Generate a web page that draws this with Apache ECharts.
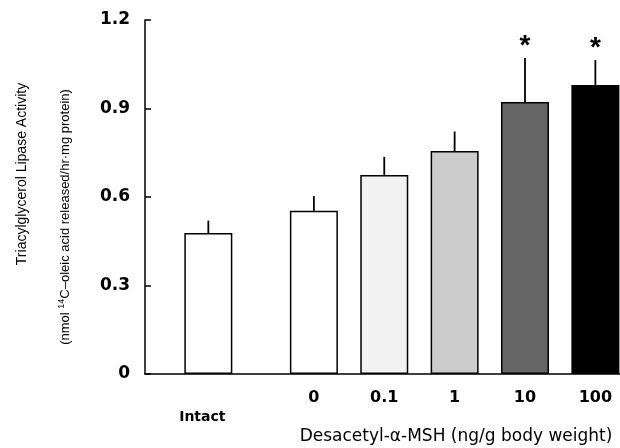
<!DOCTYPE html>
<html><head><meta charset="utf-8">
<script src="https://cdn.jsdelivr.net/npm/echarts@6/dist/echarts.min.js"></script>
<style>html,body{margin:0;padding:0;background:#fff}#c{width:620px;height:448px}</style>
</head><body><div id="c"></div>
<script>
// Data
var groups = ['Intact', '0', '0.1', '1', '10', '100'];
var groupPos = [0, 1.5, 2.5, 3.5, 4.5, 5.5];
var means = [0.478, 0.553, 0.675, 0.756, 0.922, 0.980];
var sems = [0.042, 0.050, 0.061, 0.066, 0.149, 0.084];
var significant = [false, false, false, false, true, true];
var yTicks = [0, 0.3, 0.6, 0.9, 1.2];
var barColors = ['#ffffff', '#ffffff', '#f2f2f2', '#cccccc', '#666666', '#000000'];

var chart = echarts.init(document.getElementById('c'), null, {renderer: 'canvas'});
var F = 'Liberation Sans, Arial, sans-serif';
var D = '"DejaVu Sans", sans-serif';

var barData = groups.map(function (g, i) {
  return {value: [groupPos[i], means[i]], itemStyle: {color: barColors[i]}};
});
var errData = groups.map(function (g, i) {
  return [groupPos[i], means[i], sems[i], significant[i] ? 1 : 0];
});

chart.setOption({
  backgroundColor: '#ffffff',
  animation: false,
  grid: {left: 145, right: 0, top: 20, bottom: 74, containLabel: false},
  xAxis: {
    type: 'value', min: -0.9, max: 5.85,
    splitLine: {show: false},
    axisLine: {show: true, onZero: false, lineStyle: {color: '#000', width: 1.5}},
    axisTick: {show: false},
    axisLabel: {
      customValues: groupPos,
      margin: 16,
      formatter: function (v) {
        var i = groupPos.indexOf(v);
        if (i < 0) return '';
        if (i === 0) return '{low|' + groups[i] + '}';
        return '{num|' + groups[i] + '}';
      },
      rich: {
        num: {fontFamily: D, fontSize: 16, fontWeight: 'bold', color: '#000'},
        low: {fontFamily: D, fontSize: 14, fontWeight: 'bold', color: '#000', padding: [20, 12, 0, 0]}
      }
    }
  },
  yAxis: {
    type: 'value', min: 0, max: 1.2, interval: 0.3,
    splitLine: {show: false},
    axisLine: {show: true, onZero: false, lineStyle: {color: '#000', width: 1.5}},
    axisTick: {show: true, inside: true, length: 6, lineStyle: {color: '#000', width: 1.5}},
    axisLabel: {
      margin: 15, fontFamily: D, fontSize: 17, fontWeight: 'bold', color: '#000',
      formatter: function (v) {
        var i = yTicks.indexOf(Math.round(v * 10) / 10);
        return i < 0 ? '' : (v === 0 ? '0' : v.toFixed(1));
      }
    }
  },
  series: [
    {
      type: 'bar', data: barData, barWidth: 48,
      itemStyle: {borderColor: '#000', borderWidth: 1.5},
      z: 2
    },
    {
      type: 'custom', data: errData, z: 3,
      renderItem: function (params, api) {
        var x = api.value(0), m = api.value(1), e = api.value(2), s = api.value(3);
        var p0 = api.coord([x, m]);
        var p1 = api.coord([x, m + e]);
        var children = [{
          type: 'line',
          shape: {x1: p0[0], y1: p0[1], x2: p1[0], y2: p1[1]},
          style: {stroke: '#000', lineWidth: 1.8}
        }];
        if (s) {
          children.push({
            type: 'text',
            style: {text: '*', x: p1[0], y: p1[1] + 2, align: 'center', verticalAlign: 'bottom',
              font: 'bold 28px ' + F, fill: '#000'}
          });
        }
        return {type: 'group', children: children};
      }
    }
  ],
  graphic: [
    {
      type: 'text', rotation: Math.PI / 2, x: 22, y: 174,
      style: {text: 'Triacylglycerol Lipase Activity', font: '14px ' + F, fill: '#000',
        align: 'center', verticalAlign: 'middle'}
    },
    {
      type: 'text', rotation: Math.PI / 2, x: 65, y: 217,
      style: {
        text: '(nmol {sup|14}C‒oleic acid released/hr·mg protein)',
        font: '13px ' + F, fill: '#000', align: 'center', verticalAlign: 'middle',
        rich: {sup: {fontSize: 9, verticalAlign: 'top', padding: [0, 0, 6, 0], fontFamily: F}}
      }
    },
    {
      type: 'text', x: 456, y: 437,
      style: {text: 'Desacetyl‐α‐MSH (ng/g body weight)', font: '17px ' + D, fill: '#000',
        align: 'center', verticalAlign: 'middle'}
    }
  ]
});
</script></body></html>
